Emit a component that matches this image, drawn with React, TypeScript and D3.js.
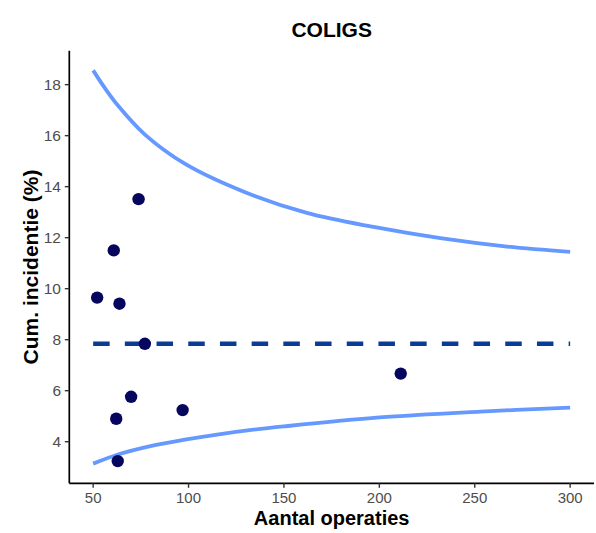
import React from "react";
import * as d3 from "d3";

const title = "COLIGS";
const xLabel = "Aantal operaties";
const yLabel = "Cum. incidentie (%)";

const hospitalN = [52.1, 60.8, 62.1, 62.9, 63.8, 69.9, 73.8, 77.1, 96.9, 211.2];
const hospitalPct = [9.65, 11.5, 4.9, 3.24, 9.41, 5.76, 13.51, 7.84, 5.24, 6.67];

const upperN = [50, 56, 63, 77, 98, 129, 162, 197, 232, 267, 300];
const upperPct = [18.56, 17.88, 17.18, 16.05, 14.9, 13.8, 12.97, 12.42, 11.98, 11.65, 11.44];
const lowerN = [50, 63, 80, 98, 115, 133, 150, 200, 253, 300];
const lowerPct = [3.14, 3.5, 3.83, 4.08, 4.28, 4.46, 4.6, 4.95, 5.18, 5.34];

const meanPct = 7.84;
const meanRange = [50, 300];

const xTicks = [50, 100, 150, 200, 250, 300];
const yTicks = [4, 6, 8, 10, 12, 14, 16, 18];

const W = 596;
const H = 533;
const M = { left: 69.3, right: 594, top: 50.7, bottom: 483.3 };
const FONT = "'Liberation Sans', Arial, sans-serif";

function expand(lo: number, hi: number): [number, number] {
  const p = (hi - lo) * 0.05;
  return [lo - p, hi + p];
}

export default function App() {
  const allX = [...upperN, ...lowerN, ...hospitalN];
  const allY = [...upperPct, ...lowerPct, ...hospitalPct];
  const x = d3.scaleLinear().domain(expand(d3.min(allX)!, d3.max(allX)!)).range([M.left, M.right]);
  const y = d3.scaleLinear().domain(expand(d3.min(allY)!, d3.max(allY)!)).range([M.bottom, M.top]);

  const line = d3
    .line<[number, number]>()
    .x((d) => x(d[0]))
    .y((d) => y(d[1]))
    .curve(d3.curveCatmullRom.alpha(0.5));

  const upper = line(upperN.map((n, i) => [n, upperPct[i]]))!;
  const lower = line(lowerN.map((n, i) => [n, lowerPct[i]]))!;
  const cx = (M.left + M.right) / 2;
  const cy = (M.top + M.bottom) / 2;

  return (
    <svg width={W} height={H} style={{ position: "absolute", left: 0, top: 0, background: "#fff" }}>
      <text x={cx} y={36.5} textAnchor="middle" fontFamily={FONT} fontWeight="bold" fontSize={21} fill="#000">
        {title}
      </text>

      <path d={upper} fill="none" stroke="#6699ff" strokeWidth={3.8} strokeLinejoin="round" />
      <path d={lower} fill="none" stroke="#6699ff" strokeWidth={3.8} strokeLinejoin="round" />
      <line
        x1={x(meanRange[0])}
        x2={x(meanRange[1])}
        y1={y(meanPct)}
        y2={y(meanPct)}
        stroke="#0a3c96"
        strokeWidth={4.6}
        strokeDasharray="16.5 15.2"
      />
      {hospitalN.map((n, i) => (
        <circle key={i} cx={x(n)} cy={y(hospitalPct[i])} r={6.2} fill="#06065e" />
      ))}

      {/* axes */}
      <line x1={M.left} x2={M.left} y1={M.top} y2={M.bottom} stroke="#000" strokeWidth={1.7} />
      <line x1={M.left} x2={M.right} y1={M.bottom} y2={M.bottom} stroke="#000" strokeWidth={1.7} />
      {xTicks.map((t) => (
        <g key={t}>
          <line x1={x(t)} x2={x(t)} y1={M.bottom} y2={M.bottom + 4.5} stroke="#333" strokeWidth={1.4} />
          <text x={x(t)} y={502.5} textAnchor="middle" fontFamily={FONT} fontSize={15} fill="#4d4d4d">
            {t}
          </text>
        </g>
      ))}
      {yTicks.map((t) => (
        <g key={t}>
          <line x1={M.left - 4.5} x2={M.left} y1={y(t)} y2={y(t)} stroke="#333" strokeWidth={1.4} />
          <text x={61} y={y(t)} dy="0.36em" textAnchor="end" fontFamily={FONT} fontSize={15.5} fill="#4d4d4d">
            {t}
          </text>
        </g>
      ))}

      <text x={cx} y={525} textAnchor="middle" fontFamily={FONT} fontWeight="bold" fontSize={20} fill="#000">
        {xLabel}
      </text>
      <text
        transform={`translate(37.5, ${cy}) rotate(-90)`}
        textAnchor="middle"
        fontFamily={FONT}
        fontWeight="bold"
        fontSize={21}
        fill="#000"
      >
        {yLabel}
      </text>
    </svg>
  );
}
